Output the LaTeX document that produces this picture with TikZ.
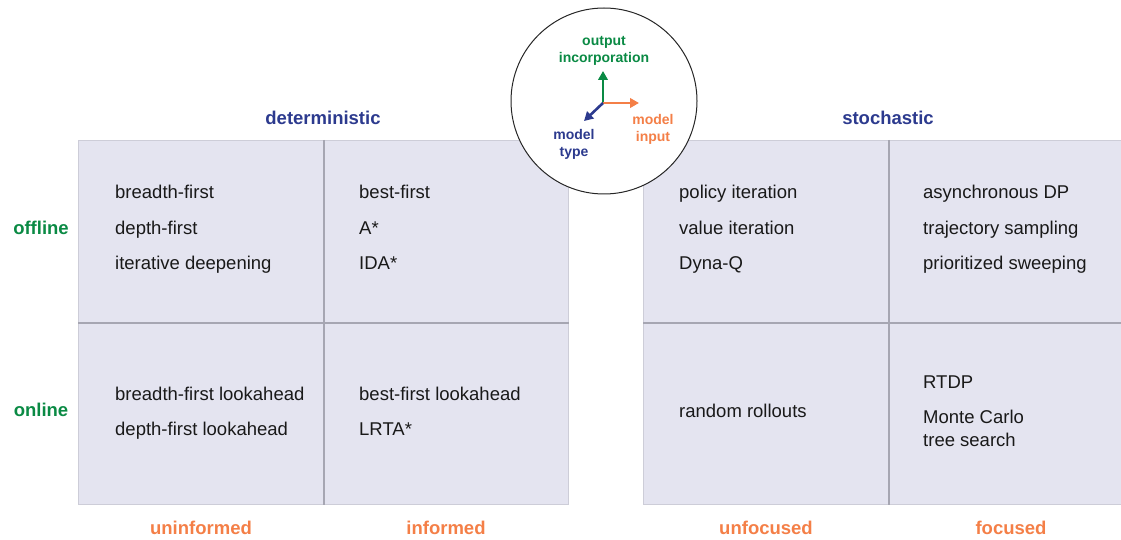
\documentclass[tikz,border=0pt]{standalone}
\usepackage{fontspec}
\setmainfont{Liberation Sans}
\usetikzlibrary{arrows.meta}
\definecolor{cellfill}{HTML}{E4E4F0}
\definecolor{outerline}{HTML}{CDCDD8}
\definecolor{innerline}{HTML}{A6A6B2}
\definecolor{dblue}{HTML}{2C3A8E}
\definecolor{dgreen}{HTML}{0A8A44}
\definecolor{dorange}{HTML}{F47F47}
\tikzset{
  cellbox/.style={draw=outerline, fill=cellfill, line width=1pt, minimum width=#1, inner sep=0pt, anchor=north west},
  item/.style={anchor=base west, inner sep=0pt, font=\fontsize{18.5}{22}\selectfont, text=black!90},
  hdr/.style={anchor=base, font=\fontsize{18.5}{22}\selectfont\bfseries, inner sep=0pt},
  small/.style={font=\fontsize{14}{17}\selectfont\bfseries, inner sep=0pt, align=center},
  axis/.style={line width=2.6pt, -{Triangle[length=9pt,width=9.5pt]}},
}
\begin{document}
\begin{tikzpicture}[x=1pt,y=-1pt]
\useasboundingbox (0,0) rectangle (1121,540);
% left grid
\node[cellbox=245pt, minimum height=182pt] (c11) at (78,140) {};
\node[cellbox=245pt, minimum height=182pt] (c12) at (323,140) {};
\node[cellbox=245pt, minimum height=182pt] (c21) at (78,322) {};
\node[cellbox=245pt, minimum height=182pt] (c22) at (323,322) {};
\draw[innerline, line width=1.3pt] (c11.north east) -- (c21.south east);
\draw[innerline, line width=1.3pt] (c11.south west) -- (c12.south east);
% right grid
\node[cellbox=245pt, minimum height=182pt] (d11) at (643,140) {};
\node[cellbox=245pt, minimum height=182pt] (d12) at (888,140) {};
\node[cellbox=245pt, minimum height=182pt] (d21) at (643,322) {};
\node[cellbox=245pt, minimum height=182pt] (d22) at (888,322) {};
\draw[innerline, line width=1.3pt] (d11.north east) -- (d21.south east);
\draw[innerline, line width=1.3pt] (d11.south west) -- (d12.south east);

% headers
\node[hdr, text=dblue] (hdet) at (323,125) {deterministic};
\node[hdr, text=dblue] (hsto) at (888,125) {stochastic};
\node[hdr, text=dgreen] (hoff) at (41,234) {offline};
\node[hdr, text=dgreen] (hon) at (41,416) {online};
\node[hdr, text=dorange] (hun) at (201,534) {uninformed};
\node[hdr, text=dorange] (hin) at (446,534) {informed};
\node[hdr, text=dorange] (hunf) at (766,534) {unfocused};
\node[hdr, text=dorange] (hfoc) at (1011,534) {focused};

% cell items
\node[item] (a1) at (115,199) {breadth-first};
\node[item] (a2) at (115,234) {depth-first};
\node[item] (a3) at (115,269) {iterative deepening};
\node[item] (b1) at (359,199) {best-first};
\node[item] (b2) at (359,234) {A*};
\node[item] (b3) at (359,269) {IDA*};
\node[item] (e1) at (115,400) {breadth-first lookahead};
\node[item] (e2) at (115,435) {depth-first lookahead};
\node[item] (f1) at (359,400) {best-first lookahead};
\node[item] (f2) at (359,435) {LRTA*};
\node[item] (g1) at (679,199) {policy iteration};
\node[item] (g2) at (679,234) {value iteration};
\node[item] (g3) at (679,269) {Dyna-Q};
\node[item] (h1) at (923,199) {asynchronous DP};
\node[item] (h2) at (923,234) {trajectory sampling};
\node[item] (h3) at (923,269) {prioritized sweeping};
\node[item] (k1) at (679,417) {random rollouts};
\node[item] (m1) at (923,388) {RTDP};
\node[item] (m2) at (923,423) {Monte Carlo};
\node[item] (m3) at (923,446) {tree search};

% legend circle
\node[circle, draw=black!85, fill=white, line width=1pt, minimum size=186pt, inner sep=0pt] (circ) at (604,101) {};
\coordinate (o) at (603,103);
\coordinate (up) at (603,71);
\coordinate (rt) at (639,103);
\coordinate (dl) at (584,121);
\draw[axis, dgreen] (o) -- (up);
\draw[axis, dorange] (o) -- (rt);
\draw[axis, dblue] (o) -- (dl);
\node[small, text=dgreen] (lout) at (604,51) {output\\incorporation};
\node[small, text=dblue] (ltype) at (574,144) {model\\type};
\node[small, text=dorange] (linp) at (653,129) {model\\input};
\end{tikzpicture}
\end{document}
